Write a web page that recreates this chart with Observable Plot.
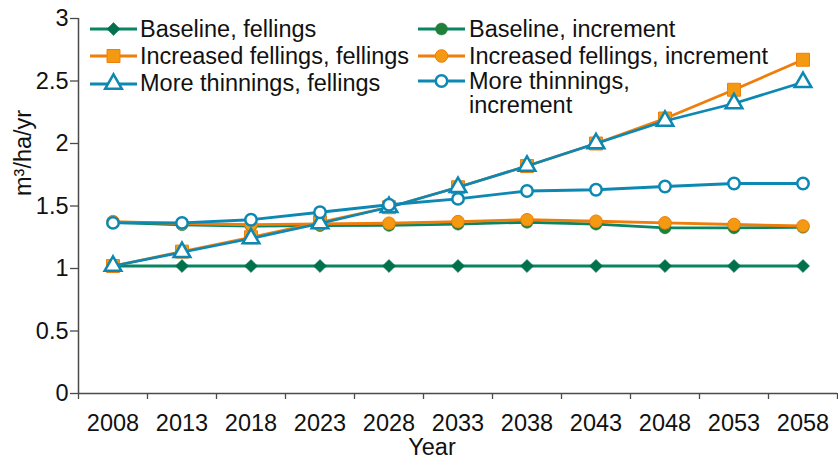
<!DOCTYPE html>
<html><head><meta charset="utf-8">
<script src="https://cdn.jsdelivr.net/npm/d3@7"></script>
<script src="https://cdn.jsdelivr.net/npm/@observablehq/plot@0.6"></script>
<style>
body{margin:0;background:#fff;}
#chart{position:relative;width:838px;height:459px;font-family:"Liberation Sans",Arial,Helvetica,sans-serif;}
#chart svg.overlay{position:absolute;left:0;top:0;pointer-events:none;}
</style></head><body><div id="chart"></div>
<script>
// ---- data ----
const years = [2008, 2013, 2018, 2023, 2028, 2033, 2038, 2043, 2048, 2053, 2058];
const baselineFellings      = [1.02, 1.02, 1.02, 1.02, 1.02, 1.02, 1.02, 1.02, 1.02, 1.02, 1.02];
const baselineIncrement     = [1.37, 1.35, 1.34, 1.343, 1.345, 1.355, 1.37, 1.355, 1.325, 1.325, 1.33];
const increasedFellings     = [1.02, 1.135, 1.25, 1.37, 1.49, 1.65, 1.82, 2.0, 2.2, 2.43, 2.67];
const increasedIncrement    = [1.375, 1.36, 1.35, 1.357, 1.362, 1.375, 1.39, 1.378, 1.365, 1.352, 1.34];
const thinningsFellings     = [1.02, 1.13, 1.24, 1.36, 1.49, 1.65, 1.82, 2.0, 2.18, 2.32, 2.49];
const thinningsIncrement    = [1.365, 1.365, 1.39, 1.45, 1.51, 1.557, 1.62, 1.63, 1.656, 1.68, 1.68];
const seriesNames = ["Baseline, fellings", "Baseline, increment", "Increased fellings, fellings",
                     "Increased fellings, increment", "More thinnings, fellings", "More thinnings, increment"];
const seriesValues = [baselineFellings, baselineIncrement, increasedFellings, increasedIncrement, thinningsFellings, thinningsIncrement];
const legendLabels = [["Baseline, fellings"], ["Baseline, increment"], ["Increased fellings, fellings"],
                      ["Increased fellings, increment"], ["More thinnings, fellings"], ["More thinnings,", "increment"]];
const yTicks = [0, 0.5, 1, 1.5, 2, 2.5, 3];
const yLabel = "m³/ha/yr";
const xLabel = "Year";

// ---- styles ----
const green = "#0b8462", greenDark = "#00714a", greenMid = "#1f7f3b";
const orange = "#ef7d0a", orangeFill = "#f39a12";
const blue = "#0c88b3";
const styles = [
  {line: green,  symbol: "diamond2", d3s: d3.symbolDiamond2, r: 5.9, fill: greenDark,  stroke: greenDark, sw: 0.5},
  {line: green,  symbol: "circle",   d3s: d3.symbolCircle,   r: 6.0, fill: greenMid,   stroke: greenMid,  sw: 0.5},
  {line: orange, symbol: "square",   d3s: d3.symbolSquare,   r: 7.3, fill: orangeFill, stroke: orange,    sw: 1},
  {line: orange, symbol: "circle",   d3s: d3.symbolCircle,   r: 6.3, fill: orangeFill, stroke: orange,    sw: 1},
  {line: blue,   symbol: "triangle", d3s: d3.symbolTriangle, r: 6.2, fill: "#fff",     stroke: blue,      sw: 2.5},
  {line: blue,   symbol: "circle",   d3s: d3.symbolCircle,   r: 5.7, fill: "#fff",     stroke: blue,      sw: 2.5}
];
const axisColor = "#4a4a4a", textColor = "#111";
const W = 838, H = 459, mL = 78, mR = 1, mT = 18, mB = 66;
const FS = 23.5;

const step = years[1] - years[0];
const bounds = years.map(y => y - step / 2).concat([years[years.length - 1] + step / 2]);

const marks = [
  Plot.ruleY([0], {stroke: axisColor, strokeWidth: 1.5}),
  Plot.ruleX([bounds[0]], {stroke: axisColor, strokeWidth: 1.5}),
  Plot.axisX({ticks: bounds, tickSize: 6, tickFormat: () => "", stroke: axisColor, strokeWidth: 1.3}),
  Plot.axisX({ticks: years, tickSize: 0, tickPadding: 21, tickFormat: d => String(d), fill: textColor, fontSize: FS}),
  Plot.axisY({ticks: yTicks, tickSize: 8, tickPadding: 2, tickFormat: d => String(d), stroke: axisColor, strokeWidth: 1.3, fill: textColor, fontSize: FS}),
  Plot.text([xLabel], {frameAnchor: "bottom", text: d => d, dx: -26, dy: 61, lineAnchor: "bottom", fontSize: FS, fill: textColor}),
  Plot.text([yLabel], {frameAnchor: "left", text: d => d, rotate: -90, dx: -55, dy: -10, lineAnchor: "middle", fontSize: FS, fill: textColor})
];
seriesValues.forEach((vals, i) => {
  const st = styles[i];
  const data = years.map((yr, j) => ({year: yr, value: vals[j], series: seriesNames[i]}));
  marks.push(Plot.line(data, {x: "year", y: "value", stroke: st.line, strokeWidth: 2.8}));
  marks.push(Plot.dot(data, {x: "year", y: "value", symbol: st.symbol, r: st.r, fill: st.fill, stroke: st.stroke, strokeWidth: st.sw}));
});

const chart = Plot.plot({
  width: W, height: H,
  marginLeft: mL, marginRight: mR, marginTop: mT, marginBottom: mB,
  x: {domain: [bounds[0], bounds[bounds.length - 1]], label: null, axis: null},
  y: {domain: [0, 3], label: null, axis: null},
  style: {fontFamily: "'Liberation Sans', Arial, Helvetica, sans-serif", fontSize: FS + "px", color: textColor, background: "#fff"},
  marks
});
const root = document.getElementById("chart");
root.appendChild(chart);

// ---- legend overlay ----
const svg = d3.select(root).append("svg").attr("class", "overlay").attr("width", W).attr("height", H);
const cols = [{x0: 90, x1: 137, tx: 140}, {x0: 418, x1: 465, tx: 469}];
const rowY = [29, 56, 84];
const rowBase = [37, 63.5, 91];
seriesNames.forEach((name, i) => {
  const st = styles[i];
  const c = cols[i % 2], r = Math.floor(i / 2);
  const g = svg.append("g");
  const yy = (i === 5) ? 81 : rowY[r];
  g.append("line").attr("x1", c.x0).attr("x2", c.x1).attr("y1", yy).attr("y2", yy)
    .attr("stroke", st.line).attr("stroke-width", 2.8);
  g.append("path").attr("d", d3.symbol(st.d3s, Math.PI * st.r * st.r)())
    .attr("transform", `translate(${(c.x0 + c.x1) / 2},${yy})`)
    .attr("fill", st.fill).attr("stroke", st.stroke).attr("stroke-width", st.sw);
  const t = g.append("text").attr("x", c.tx).attr("y", (i === 5) ? 88.5 : rowBase[r])
    .attr("font-family", "'Liberation Sans', Arial, Helvetica, sans-serif").attr("font-size", FS).attr("fill", textColor);
  legendLabels[i].forEach((ln, k) => {
    t.append("tspan").attr("x", c.tx).attr("dy", k === 0 ? 0 : 24).text(ln);
  });
});
</script></body></html>
